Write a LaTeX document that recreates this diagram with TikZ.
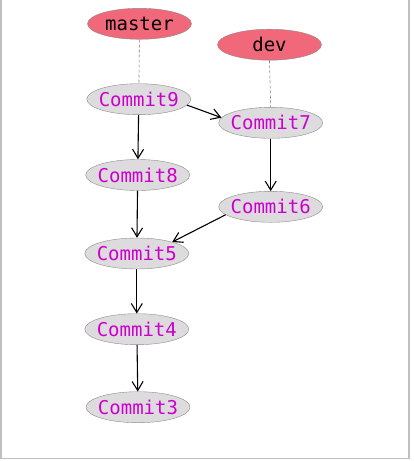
\documentclass[tikz,border=0pt]{standalone}
\usepackage{fontspec}
\setmonofont{DejaVu Sans Mono}
\usetikzlibrary{shapes.geometric,arrows.meta}
\definecolor{branchred}{RGB}{240,104,122}
\definecolor{commitgray}{RGB}{221,219,221}
\definecolor{commitmagenta}{RGB}{204,0,204}
\begin{document}
\begin{tikzpicture}[x=1pt,y=-1pt,
  commit/.style={ellipse,draw=gray!90,fill=commitgray,text=commitmagenta,minimum width=104pt,minimum height=31pt,inner xsep=-3.5pt,inner ysep=0pt},
  branch/.style={commit,fill=branchred,text=black},
  parent/.style={-{Straight Barb[length=9pt,width=11pt]},line width=1.1pt},
  ref/.style={gray,line width=0.6pt,dash pattern=on 3pt off 2pt}]
\ttfamily\fontsize{19}{21}\selectfont
\useasboundingbox (0,0) rectangle (413,461);
\draw[color=lightgray,line width=1.5pt] (1,0) -- (1,458.5) -- (409,458.5) -- (409,0);
% branches
\node[branch] (master) at (139.5,23.8) {master};
\node[branch] (dev) at (269.5,44.7) {dev};
% commits
\node[commit] (c9) at (138.8,99.2) {Commit9};
\node[commit] (c7) at (270.7,122.8) {Commit7};
\node[commit] (c8) at (137.7,175) {Commit8};
\node[commit] (c6) at (270.7,206.8) {Commit6};
\node[commit] (c5) at (136.8,253.5) {Commit5};
\node[commit] (c4) at (136.8,329.2) {Commit4};
\node[commit] (c3) at (138,407.2) {Commit3};
\draw[ref] (master) -- (c9);
\draw[ref] (dev.south) -- (c7.north);
\draw[parent] (c9) -- (c8);
\draw[parent] (c9.-7) -- (c7.174);
\draw[parent] (c7) -- (c6);
\draw[parent] (c8) -- (c5);
\draw[parent] (c6.190) -- (c5.18);
\draw[parent] (c5) -- (c4);
\draw[parent] (c4) -- (c3);
\end{tikzpicture}
\end{document}
